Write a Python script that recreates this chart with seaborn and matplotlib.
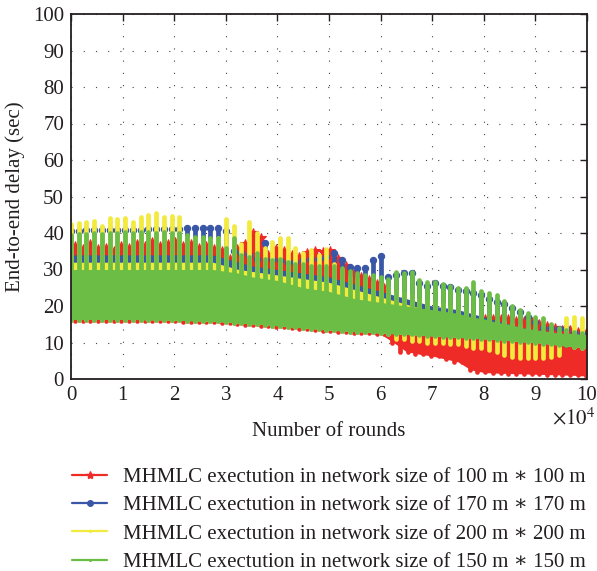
import numpy as np
import pandas as pd
import matplotlib
matplotlib.use("Agg")
import matplotlib.pyplot as plt
import seaborn as sns
from matplotlib.lines import Line2D

sns.set_style("white")
plt.rcParams['font.family'] = ['Liberation Serif', 'DejaVu Serif']
plt.rcParams['mathtext.fontset'] = 'stix'

# ---------------- data ----------------
labels = [
    "MHMLC exectution in network size of 100 m \u2217 100 m",
    "MHMLC exectution in network size of 170 m \u2217 170 m",
    "MHMLC exectution in network size of 200 m \u2217 200 m",
    "MHMLC exectution in network size of 150 m \u2217 150 m",
]

# burst (spike) positions in rounds
spike_rounds = np.arange(0, 99001, 1500)
red_spike_rounds = spike_rounds + 750
# positions where the dense band envelope was read
band_rounds = np.arange(0, 100001, 2500)

red_top = [36.5, 35.5, 37.0, 35.5, 36.0, 35.0, 36.5, 36.0, 37.0, 36.5, 37.5, 36.5, 37.0, 37.5,
           36.5, 37.0, 36.0, 36.5, 35.5,
           35.0, 33.0, 35.5, 37.0, 40.0, 38.5, 34.0, 35.5, 35.0, 34.0, 33.5, 34.5, 35.0, 34.8,
           35.0, 33.0, 31.0, 29.0, 28.0, 27.0, 26.0, 25.0, 13.0,
           13.5, 14.0, 14.0, 14.5, 15.0, 15.0, 15.5, 15.5, 16.0, 16.0, 16.0, 16.5, 16.5, 16.5,
           16.5, 16.0, 16.0, 15.5, 15.0, 14.5, 14.0, 13.5, 13.5, 13.0, 12.5]

blue_top = [40.5, 40.5, 40.8, 40.8, 40.8, 40.8, 40.8, 40.8, 40.8, 40.8, 41.0, 41.0, 41.0, 41.0,
            41.0, 41.3, 41.3, 41.3, 41.3, 41.5, 40.5, 35.0, 34.5, 34.0, 33.0, 37.3, 33.0, 32.5,
            32.0, 32.0, 32.5, 33.0, 33.0, 33.5, 34.5, 32.5, 30.7, 30.5, 30.5, 32.6, 33.7, 28.0,
            28.5, 29.0, 29.0, 26.3, 25.5, 26.3, 25.5, 25.2, 24.5, 24.0, 23.5, 23.0, 22.0, 21.2,
            20.5, 19.4, 18.4, 17.0, 15.7, 14.0, 14.0, 13.8, 13.9, 13.0, 12.5]

yellow_top = [42.5, 42.8, 43.1, 43.4, 42.0, 44.1, 43.8, 44.1, 43.1, 44.4, 44.9, 45.5, 44.4, 44.7,
              44.4, 39.0, 38.5, 38.0, 38.0, 38.5, 43.8, 41.9, 37.0, 43.0, 40.0, 36.0, 37.5, 38.6,
              38.6, 36.0, 34.5, 35.3, 34.0, 35.5, 31.5, 30.0, 28.0, 27.5, 27.0, 26.5, 26.0, 25.0,
              24.0, 23.5, 23.0, 22.0, 21.5, 21.0, 20.5, 20.0, 19.0, 18.5, 18.0, 17.0, 16.5, 16.0,
              15.5, 15.0, 14.5, 14.0, 13.5, 13.0, 13.0, 12.5, 16.7, 17.0, 16.7]

green_top = [39.5, 39.8, 39.8, 40.0, 39.8, 40.0, 40.0, 40.2, 40.0, 40.2, 40.2, 40.0, 40.2, 40.0,
             40.0, 39.5, 39.0, 39.0, 38.5, 38.5, 36.0, 38.6, 34.0, 33.5, 34.5, 33.0, 32.5, 33.0,
             32.0, 31.5, 31.5, 31.0, 31.0, 31.0, 31.0, 30.5, 29.5, 29.0, 28.5, 28.5, 28.0, 27.5,
             29.3, 29.0, 29.3, 27.0, 26.6, 26.6, 26.0, 25.5, 25.0, 25.0, 26.6, 24.0, 23.5, 23.0,
             21.5, 20.0, 19.0, 18.0, 17.0, 16.8, 15.0, 14.0, 13.5, 13.0, 12.5]

# lower edge of the dense band (170/200/150 m runs)
band_lo = [16.3, 16.3, 16.3, 16.3, 16.3, 16.3, 16.2, 16.2, 16.1, 16.0, 15.9, 15.8, 15.6, 15.3,
           15.1, 14.9, 14.6, 14.3, 14.0, 13.7, 13.4, 13.2, 13.0, 12.8, 12.6, 12.4, 12.2, 12.0,
           11.8, 11.6, 11.4, 11.2, 11.0, 10.8, 10.5, 10.2, 10.0, 9.6, 9.2, 8.8, 8.5]

red_lo = [16.0, 16.0, 16.0, 16.0, 16.0, 16.0, 15.9, 15.9, 15.8, 15.7, 15.6, 15.5, 15.3, 15.0,
          14.8, 14.6, 14.3, 14.0, 13.7, 13.4, 13.1, 12.9, 12.7, 12.5, 12.3,
          10.0, 7.5, 6.8, 6.3, 5.5, 4.7, 2.5, 1.8, 1.6, 1.5, 1.4, 1.3, 1.2, 1.1, 1.0, 0.8]

red_hi = [33.0] * 12 + [31.0, 31.0, 30.5, 30.5, 30.0, 30.0, 29.5, 29.0, 28.0,
                        26.0, 25.0, 24.0, 23.0,
                        12.5, 13.0, 13.5, 13.5, 14.0, 14.0, 14.0, 14.0, 13.5, 13.5, 13.0,
                        13.0, 12.5, 12.5, 12.0, 12.0]

blue_hi = [34.0] * 12 + [33.0, 32.0, 31.0, 30.5, 30.0, 29.5, 29.0, 28.5, 28.0, 27.0, 26.0, 25.0,
                         24.0, 23.0, 22.0, 21.0, 20.0, 19.5, 19.0, 18.0, 17.0, 16.0, 15.0, 14.0,
                         13.5, 13.0, 12.5, 12.5, 12.0]

yellow_hi = [32.0] * 12 + [31.0, 30.0, 29.5, 29.0, 28.5, 28.0, 27.5, 27.0, 26.5, 25.5, 24.5,
                           23.5, 22.5, 21.5, 20.5, 19.5, 18.5, 18.0, 17.5, 16.5, 15.5, 14.5,
                           14.0, 13.5, 13.0, 12.5, 12.0, 12.0, 12.0]

green_hi = [30.0] * 12 + [29.5, 29.0, 28.0, 27.5, 27.0, 26.0, 25.0, 24.5, 24.0, 23.0, 22.0,
                          21.5, 21.0, 20.5, 20.0, 19.5, 19.0, 18.5, 18.0, 17.0, 16.5, 15.5,
                          15.0, 14.0, 13.5, 13.0, 12.5, 12.5, 12.0]

# downward yellow bursts (200 m run) in the late rounds
yellow_dip_rounds = np.arange(63000, 96001, 1500)
yellow_dip_lo = [11.0, 11.0, 10.5, 10.5, 10.0, 10.0, 10.0, 9.5, 9.5, 9.0, 8.5, 8.5, 8.0, 7.5,
                 6.5, 6.0, 5.8, 5.8, 5.8, 5.8, 6.0, 6.5, 9.5]

x_ticks = np.arange(0, 100001, 10000)
y_ticks = np.arange(0, 101, 10)

colors = ["#ee2b27", "#3a56a6", "#f2ea3c", "#6cbd45"]
markers = ["*", "o", ".", "."]
msizes = [7, 4.5, 3, 3]
TXT = "#231f20"

# ---------------- figure ----------------
fig = plt.figure(figsize=(5.97, 5.71), dpi=100)
ax = fig.add_axes([71 / 597, 1 - 379 / 571, 516 / 597, 365 / 571])
ax.set_axisbelow(True)


def spike_frame(xs, bottoms, tops):
    rows = []
    for k, (x, b, t) in enumerate(zip(xs, bottoms, tops)):
        rows.append((k, x, b))
        rows.append((k, x, t))
    return pd.DataFrame(rows, columns=["seg", "rounds", "delay"])


def lookup(arr, xs):
    idx = np.clip(np.rint(np.asarray(xs) / 2500).astype(int), 0, len(arr) - 1)
    return np.asarray(arr)[idx]


series = [
    (red_spike_rounds, red_top, red_lo, red_hi),
    (spike_rounds, blue_top, band_lo, blue_hi),
    (spike_rounds, yellow_top, band_lo, yellow_hi),
    (spike_rounds, green_top, band_lo, green_hi),
]

for s, (xs, tops, lo, hi) in enumerate(series):
    c = colors[s]
    ax.fill_between(band_rounds, lo, hi, color=c, lw=0, zorder=3 + 2 * s)
    bottoms = lookup(lo, xs).astype(float)
    if s == 2:
        dip_map = dict(zip(yellow_dip_rounds.tolist(), yellow_dip_lo))
        bottoms = np.array([dip_map.get(int(x), b) for x, b in zip(xs, bottoms)])
    df = spike_frame(xs, bottoms, tops)
    sns.lineplot(data=df, x="rounds", y="delay", units="seg", estimator=None, sort=False,
                 color=c, lw=3.4, marker=markers[s], markersize=msizes[s], markevery=[1],
                 markeredgecolor=c, markeredgewidth=0.8, legend=False, ax=ax,
                 zorder=4 + 2 * s)

ax.set_xlim(0, 100000)
ax.set_ylim(0, 100)
ax.set_xticks(x_ticks)
ax.set_xticklabels([str(int(v / 10000)) for v in x_ticks])
ax.set_yticks(y_ticks)
ax.set_yticklabels([str(int(v)) for v in y_ticks])
ax.grid(True, color="#444444", lw=0.8, linestyle=(0, (1, 10)), zorder=0)
ax.tick_params(direction="in", length=5, width=1, top=True, right=True,
               labelsize=15, pad=5, colors=TXT)
for sp in ax.spines.values():
    sp.set_linewidth(1.3)
    sp.set_color(TXT)
    sp.set_zorder(20)

ax.set_xlabel("Number of rounds", fontsize=15, labelpad=12, color=TXT)
ax.set_ylabel("End-to-end delay (sec)", fontsize=15, labelpad=6, color=TXT)
fig.text(595 / 597, 1 - 419 / 571, r"$\times10^{4}$", ha="right", va="center",
         fontsize=15, color=TXT)

handles = [Line2D([0], [0], color=colors[i], lw=1.6, marker=markers[i],
                  markersize=[6, 4, 2.5, 2.5][i], markeredgecolor=colors[i])
           for i in range(4)]
fig.legend(handles, labels, loc="upper left", bbox_to_anchor=(62 / 597, 1 - 457 / 571),
           frameon=False, fontsize=15, handlelength=1.65, handletextpad=0.8,
           labelspacing=0.42, borderpad=0, labelcolor=TXT)

fig.savefig("out.png", dpi=100)
